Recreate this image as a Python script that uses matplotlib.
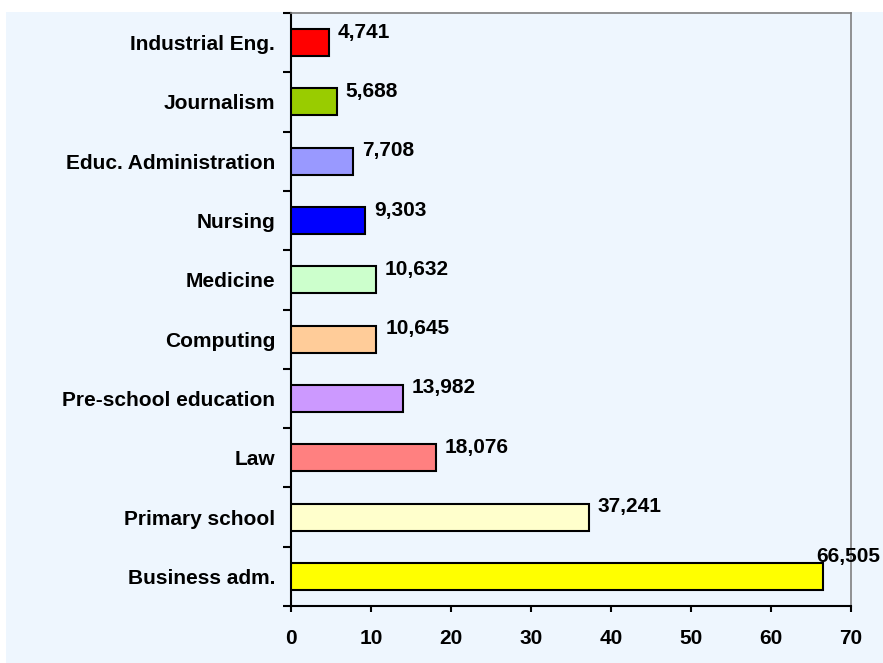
import matplotlib
matplotlib.use("Agg")
import matplotlib.pyplot as plt
from matplotlib.patches import Rectangle

categories = ["Industrial Eng.", "Journalism", "Educ. Administration", "Nursing",
              "Medicine", "Computing", "Pre-school education", "Law",
              "Primary school", "Business adm."]
values = [4.741, 5.688, 7.708, 9.303, 10.632, 10.645, 13.982, 18.076, 37.241, 66.505]
value_labels = ["4,741", "5,688", "7,708", "9,303", "10,632", "10,645",
                "13,982", "18,076", "37,241", "66,505"]
colors = ["#FF0000", "#99CC00", "#9999FF", "#0000FF", "#CCFFCC", "#FFCC99",
          "#CC99FF", "#FF8080", "#FFFFCC", "#FFFF00"]
xticks = [0, 10, 20, 30, 40, 50, 60, 70]

plt.rcParams["font.family"] = ["Liberation Sans", "DejaVu Sans"]
plt.rcParams["font.weight"] = "bold"

W, H = 883, 663
DPI = 100
PX = 72 / DPI  # points per pixel
fig = plt.figure(figsize=(W / DPI, H / DPI), dpi=DPI)
fig.patch.set_facecolor("white")
bg = "#EEF6FE"
fig.patches.append(Rectangle((6 / W, 0), 1 - 6 / W, 1 - 12 / H, transform=fig.transFigure,
                             facecolor=bg, edgecolor="none", zorder=-10))

left, right, top, bottom = 291, 851, 13, 606
ax = fig.add_axes([left / W, 1 - bottom / H, (right - left) / W, (bottom - top) / H])
ax.set_facecolor(bg)

ypos = list(range(len(categories)))
ax.barh(ypos, values, height=0.455, color=colors, edgecolor="black", linewidth=1.5, zorder=3)
ax.set_ylim(len(categories) - 0.5, -0.5)
ax.set_xlim(0, 70)

FS = 15
renderer = fig.canvas.get_renderer()
for y, v, lab in zip(ypos, values, value_labels):
    t = ax.annotate(lab, (v, y), xytext=(9 * PX, 5 * PX), textcoords="offset points",
                    ha="left", va="baseline", fontsize=FS, fontweight="bold",
                    annotation_clip=False, zorder=4)
    # keep labels inside the figure: shift back and lift above the bar if needed
    bb = t.get_window_extent(renderer)
    if bb.x1 > W - 3:
        dx = bb.x1 - (W - 3)
        t.set_position(((9 - dx) * PX, 14 * PX))

ax.set_xticks(xticks)
ax.set_xticklabels([str(t) for t in xticks], fontsize=FS, fontweight="bold")
ax.set_yticks([y + 0.5 for y in [-1] + ypos])
ax.set_yticklabels([])
ax.set_yticks(ypos, minor=True)
ax.set_yticklabels(categories, minor=True, fontsize=FS, fontweight="bold")
ax.tick_params(axis="y", which="minor", length=0, pad=16 * PX)
ax.tick_params(axis="y", which="major", length=6, width=1.5, direction="out")
ax.tick_params(axis="x", length=6 * PX, width=1.5, direction="out", pad=17 * PX)

for s in ("left", "bottom"):
    ax.spines[s].set_color("black")
    ax.spines[s].set_linewidth(1.5)
for s in ("top", "right"):
    ax.spines[s].set_color("#808080")
    ax.spines[s].set_linewidth(1.2)

fig.savefig("out.png", dpi=DPI, facecolor=fig.get_facecolor())
